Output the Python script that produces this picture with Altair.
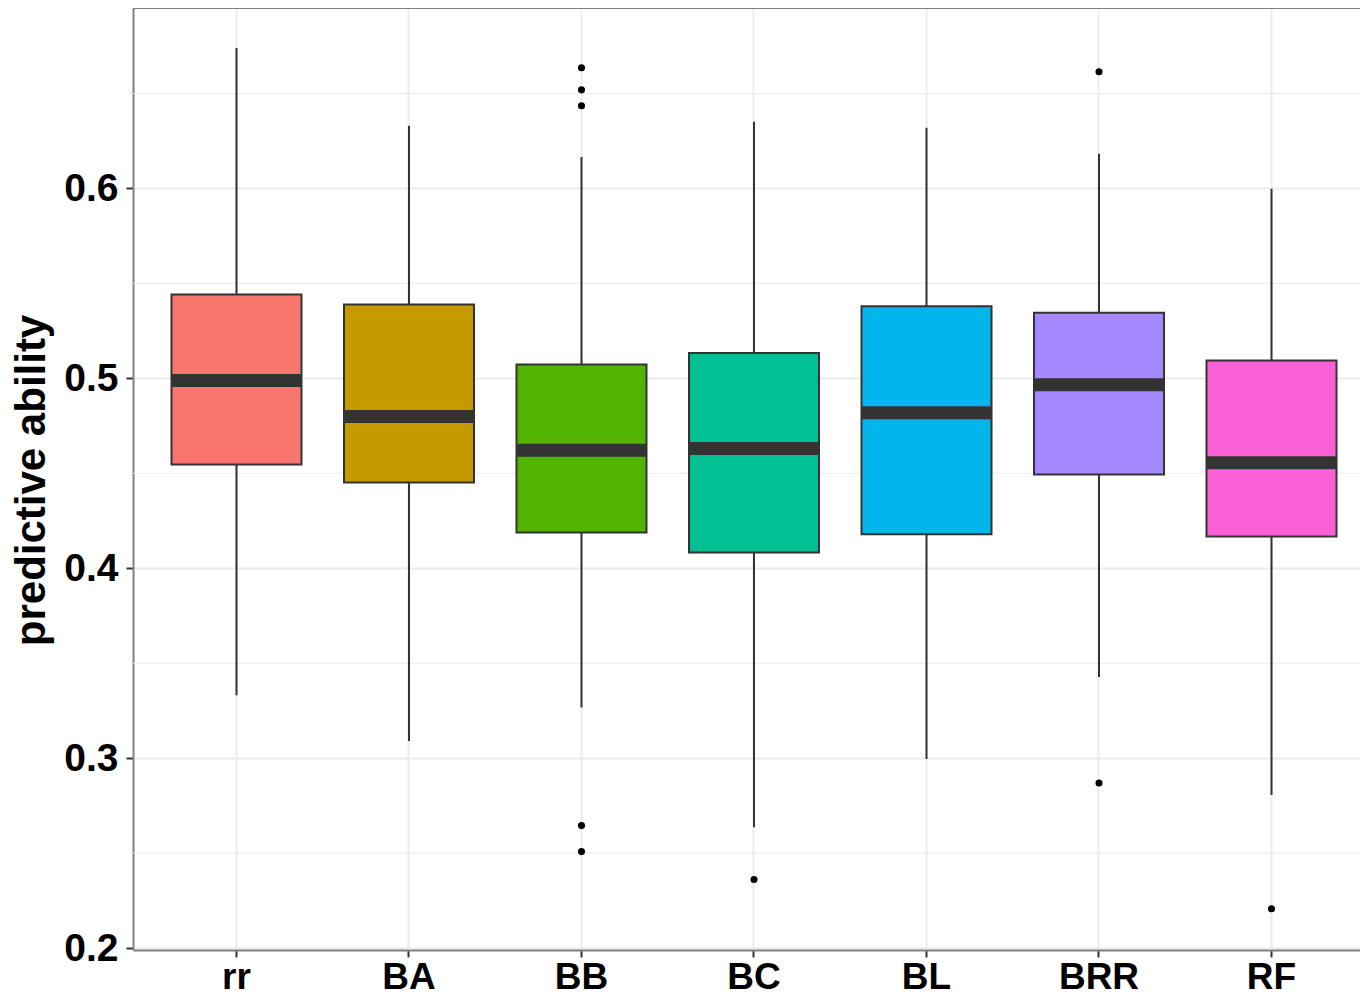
import altair as alt
import pandas as pd

CATEGORIES = ["rr", "BA", "BB", "BC", "BL", "BRR", "RF"]
COLORS = ["#F8766D", "#C49A00", "#53B400", "#00C094", "#00B6EB", "#A58AFF", "#FB61D7"]

LOWER = [0.3332, 0.3090, 0.3267, 0.2636, 0.2996, 0.3427, 0.2806]
Q1 = [0.4547, 0.4451, 0.4188, 0.4083, 0.4179, 0.4494, 0.4167]
MEDIAN = [0.4989, 0.4799, 0.4621, 0.4630, 0.4819, 0.4966, 0.4556]
Q3 = [0.5441, 0.5389, 0.5073, 0.5134, 0.5379, 0.5345, 0.5094]
UPPER = [0.6740, 0.6330, 0.6165, 0.6351, 0.6319, 0.6183, 0.5998]

OUTLIER_CAT = ["BB", "BB", "BB", "BB", "BB", "BC", "BRR", "BRR", "RF"]
OUTLIER_VAL = [0.6635, 0.6519, 0.6435, 0.2645, 0.2508, 0.2361, 0.6614, 0.2869, 0.2207]

Y_TICKS = [0.2, 0.3, 0.4, 0.5, 0.6]
Y_MINOR = [0.25, 0.35, 0.45, 0.55, 0.65]
Y_DOMAIN = [0.199, 0.695]

box_df = pd.DataFrame({
    "model": CATEGORIES, "lower": LOWER, "q1": Q1,
    "median": MEDIAN, "q3": Q3, "upper": UPPER,
})
out_df = pd.DataFrame({"model": OUTLIER_CAT, "value": OUTLIER_VAL})
minor_df = pd.DataFrame({"v": Y_MINOR})

FONT = "Liberation Sans"
BORDER = "#808080"

x_enc = alt.X(
    "model:N", sort=CATEGORIES, title=None,
    scale=alt.Scale(domain=CATEGORIES, paddingInner=0, paddingOuter=0.0565,
                    align=0.8846, round=False),
    axis=alt.Axis(
        labelAngle=0, labelFont=FONT, labelFontWeight="bold", labelFontSize=37,
        labelColor="black", labelBaseline="alphabetic", labelPadding=31,
        tickSize=7, tickWidth=2, tickColor="#333333",
        domain=True, domainColor=BORDER, domainWidth=2,
        grid=True, gridColor="#ebebeb", gridWidth=2, bandPosition=0.5,
    ),
)
y_scale = alt.Scale(domain=Y_DOMAIN, nice=False, zero=False)
y_axis = alt.Axis(
    values=Y_TICKS, format=".1f", labelFont=FONT, labelFontWeight="bold",
    labelFontSize=39, labelColor="black", labelPadding=8,
    tickSize=7, tickWidth=2, tickColor="#333333",
    domain=True, domainColor=BORDER, domainWidth=2,
    grid=True, gridColor="#ebebeb", gridWidth=2,
    title="predictive ability", titleFont=FONT, titleFontWeight="bold",
    titleFontSize=42, titleColor="black", titleAngle=270,
    titleBaseline="alphabetic", titleAlign="center", titleX=-88.5, titleY=472,
)
color_enc = alt.Color("model:N", scale=alt.Scale(domain=CATEGORIES, range=COLORS), legend=None)

minor = alt.Chart(minor_df).mark_rule(color="#ebebeb", strokeWidth=1).encode(
    y=alt.Y("v:Q", scale=y_scale, axis=y_axis)
)

whisker = alt.Chart(box_df).mark_rule(color="#333333", strokeWidth=2).encode(
    x=x_enc,
    y=alt.Y("lower:Q", scale=y_scale, axis=y_axis),
    y2="upper:Q",
)

box = alt.Chart(box_df).mark_bar(size=130, stroke="#333333", strokeWidth=2).encode(
    x=x_enc,
    y=alt.Y("q1:Q", scale=y_scale, axis=y_axis),
    y2="q3:Q",
    color=color_enc,
)

median = alt.Chart(box_df).mark_tick(color="#333333", thickness=13, size=130, opacity=1).encode(
    x=x_enc,
    y=alt.Y("median:Q", scale=y_scale, axis=y_axis),
)

outliers = alt.Chart(out_df).mark_circle(color="black", size=50, opacity=1).encode(
    x=x_enc,
    y=alt.Y("value:Q", scale=y_scale, axis=y_axis),
)

top_border = alt.Chart(minor_df).mark_rule(color=BORDER, strokeWidth=2).encode(
    y=alt.value(0)
)

chart = alt.layer(minor, whisker, box, median, outliers, top_border).properties(
    width=1227, height=942,
    padding={"left": 125, "top": 0, "right": 0, "bottom": 46},
    autosize=alt.AutoSizeParams(type="none"),
    background="white",
).configure_view(strokeWidth=0)

chart.save("out.html", embed_options={"renderer": "svg", "actions": False})
